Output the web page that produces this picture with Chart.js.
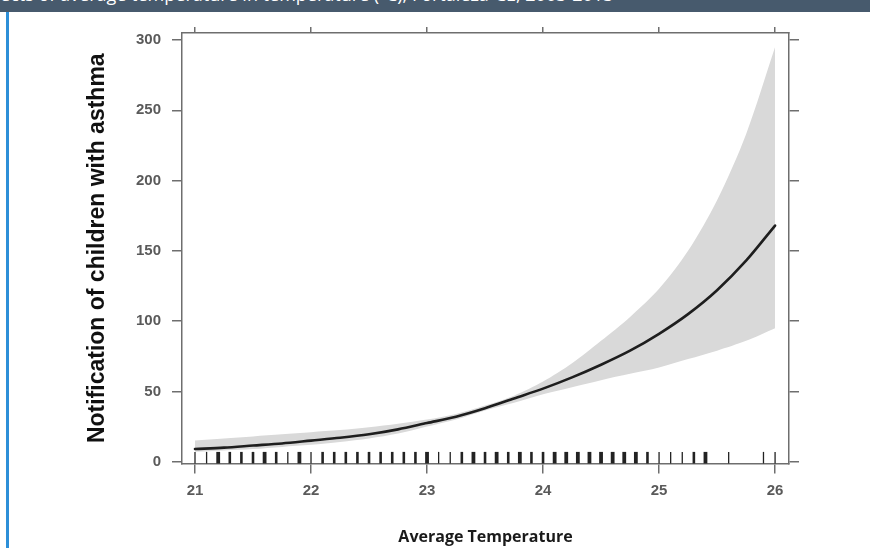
<!DOCTYPE html>
<html><head><meta charset="utf-8">
<script src="https://cdn.jsdelivr.net/npm/chart.js@4.4.1/dist/chart.umd.min.js"></script>
<style>
html,body{margin:0;padding:0;background:#fff;width:870px;height:548px;overflow:hidden;}
#wrap{position:absolute;left:0;top:0;width:870px;height:548px;}
#hdr{position:absolute;left:0;top:0;width:870px;height:12px;background:#475a6d;overflow:hidden;}
#hdr span{position:absolute;left:-22px;top:-18px;font:18px 'Open Sans';color:#fff;white-space:nowrap;}
#bar{position:absolute;left:6px;top:12px;width:3px;height:536px;background:#2d8fd8;}
</style></head><body>
<div id="wrap"><canvas id="c" width="870" height="548"></canvas></div>
<div id="hdr"><span>Effects of average temperature in temperature (ºC), Fortaleza-CE, 2003-2013</span></div>
<div id="bar"></div>
<script>
// ---- data ----
const temps   = [21, 21.25, 21.5, 21.75, 22, 22.25, 22.5, 22.75, 23, 23.25, 23.5, 23.75, 24, 24.25, 24.5, 24.75, 25, 25.25, 25.5, 25.75, 26];
const fitted  = [9, 10, 11.5, 13, 15, 17, 19.5, 23, 27.5, 32, 38, 45, 52, 60, 69, 79, 91, 105, 122, 143, 168];
const upperCI = [15, 16.5, 18, 19.5, 21, 22.5, 24.5, 27, 30, 34, 40, 47, 57, 70, 86, 103, 123, 150, 186, 233, 295];
const lowerCI = [7, 8, 9, 10.5, 12, 14, 16.5, 20, 25, 30, 36.5, 42, 48, 53, 58, 62.5, 67, 73, 79, 86, 95];
// observed temperatures (rug); repeated values = overlapping observations
const rugTemps = [
  21.0, 21.1, 21.2,21.2,21.2, 21.3,21.3, 21.4,21.4, 21.5,21.5, 21.6,21.6,21.6, 21.7,21.7, 21.8, 21.9,21.9,21.9,
  22.0, 22.1,22.1, 22.2,22.2, 22.3,22.3, 22.4,22.4, 22.5,22.5, 22.6,22.6, 22.7,22.7, 22.8,22.8, 22.9,22.9,
  23.0,23.0,23.0, 23.1, 23.2, 23.3,23.3, 23.4,23.4,23.4, 23.5,23.5, 23.6,23.6,23.6, 23.7,23.7, 23.8,23.8,23.8, 23.9,23.9,
  24.0,24.0, 24.1,24.1,24.1, 24.2,24.2,24.2, 24.3,24.3,24.3, 24.4,24.4,24.4, 24.5,24.5,24.5, 24.6,24.6,24.6, 24.7,24.7,24.7, 24.8,24.8,24.8, 24.9,24.9,
  25.0, 25.1, 25.2, 25.3,25.3, 25.4,25.4,25.4, 25.6, 25.9, 26.0
];
const xTicks = [21, 22, 23, 24, 25, 26];
const yTicks = [0, 50, 100, 150, 200, 250, 300];
const xTitle = 'Average Temperature';
const yTitle = 'Notification of children with asthma';

// ---- layout constants ----
const X_MIN = 20.888, X_MAX = 26.12;
const Y_MIN = -1.28, Y_MAX = 305;
const AREA = {left: 182, right: 789, top: 33, bottom: 463.5};
const W = 870, H = 548;
const axisColor = '#6e6e6e';

const pts = (ys) => temps.map((t, i) => ({x: t, y: ys[i]}));

// rug: collapse duplicates into counts
const rugCount = {};
rugTemps.forEach(t => { const k = t.toFixed(1); rugCount[k] = (rugCount[k] || 0) + 1; });
const rugKeys = Object.keys(rugCount).map(Number).sort((a, b) => a - b);
const pxPerUnit = (AREA.bottom - AREA.top) / (Y_MAX - Y_MIN);
const rugY = Y_MIN + 5.8 / pxPerUnit;
const rugPts = rugKeys.map(t => ({x: t, y: rugY}));
const rugW = rugKeys.map(t => [0, 1.3, 2.6, 3.8][Math.min(3, rugCount[t.toFixed(1)])]);

const tickFont = {family: "'Liberation Sans', Arial, sans-serif", size: 15, weight: 'bold'};
const setTicks = (vals) => (s) => { s.ticks = vals.map(v => ({value: v})); };

new Chart(document.getElementById('c'), {
  type: 'scatter',
  data: {
    datasets: [
      {label: 'upper', data: pts(upperCI), showLine: true, borderWidth: 0, pointRadius: 0,
       backgroundColor: '#d9d9d9', fill: '+1', tension: 0.3, order: 3},
      {label: 'lower', data: pts(lowerCI), showLine: true, borderWidth: 0, pointRadius: 0,
       backgroundColor: '#d9d9d9', fill: false, tension: 0.3, order: 3},
      {label: 'fit', data: pts(fitted), showLine: true, borderColor: '#1e1e1e', borderWidth: 2.6,
       pointRadius: 0, fill: false, tension: 0.3, order: 1},
      {label: 'rug', data: rugPts, showLine: false, pointStyle: 'line', rotation: 90, radius: 5.8,
       pointRadius: 5.8, borderColor: '#222', pointBorderWidth: rugW, borderWidth: rugW, clip: false, order: 2}
    ]
  },
  options: {
    responsive: false, animation: false,
    layout: {padding: 0},
    plugins: {legend: {display: false}, tooltip: {enabled: false}},
    elements: {line: {borderCapStyle: 'round'}},
    scales: {
      x: {type: 'linear', position: 'bottom', min: X_MIN, max: X_MAX,
          afterBuildTicks: setTicks(xTicks),
          afterFit: s => { s.height = H - AREA.bottom; },
          grid: {drawOnChartArea: false, drawTicks: true, tickLength: 10, color: axisColor, lineWidth: 1.5},
          border: {display: true, color: axisColor, width: 1.5},
          ticks: {padding: 8, color: '#5a5a5a', font: tickFont, maxRotation: 0, callback: v => String(v)},
          title: {display: true, text: xTitle, color: '#1a1a1a',
                  font: {family: "'Open Sans', sans-serif", size: 16, weight: 'bold'}, padding: {top: 0, bottom: 1}}},
      xTop: {type: 'linear', position: 'top', min: X_MIN, max: X_MAX,
          afterBuildTicks: setTicks(xTicks),
          afterFit: s => { s.height = AREA.top; },
          grid: {drawOnChartArea: false, drawTicks: true, tickLength: 6, color: axisColor, lineWidth: 1.5},
          border: {display: true, color: axisColor, width: 1.5},
          ticks: {display: false}},
      y: {type: 'linear', position: 'left', min: Y_MIN, max: Y_MAX,
          afterBuildTicks: setTicks(yTicks),
          afterFit: s => { s.width = AREA.left; },
          grid: {drawOnChartArea: false, drawTicks: true, tickLength: 10, color: axisColor, lineWidth: 1.5},
          border: {display: true, color: axisColor, width: 1.5},
          ticks: {padding: 11, color: '#5a5a5a', font: tickFont, callback: v => String(v)},
          title: {display: true, text: yTitle, color: '#111',
                  font: {family: "'Liberation Sans', Arial, sans-serif", size: 23, weight: 'bold'}, padding: {top: 84, bottom: 0}}},
      yRight: {type: 'linear', position: 'right', min: Y_MIN, max: Y_MAX,
          afterBuildTicks: setTicks(yTicks),
          afterFit: s => { s.width = W - AREA.right; },
          grid: {drawOnChartArea: false, drawTicks: true, tickLength: 10, color: axisColor, lineWidth: 1.5},
          border: {display: true, color: axisColor, width: 1.5},
          ticks: {display: false}}
    }
  }
});
</script>
</body></html>
